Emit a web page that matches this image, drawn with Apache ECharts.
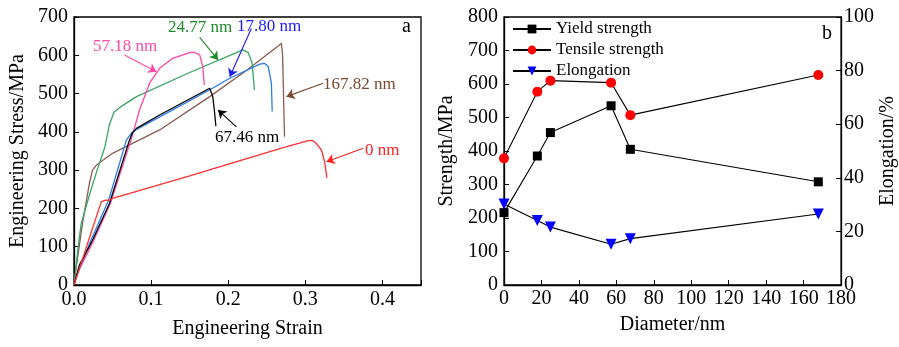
<!DOCTYPE html>
<html>
<head>
<meta charset="utf-8">
<script src="https://cdn.jsdelivr.net/npm/echarts@6/dist/echarts.min.js"></script>
<style>
  html, body { margin: 0; padding: 0; background: #fff; }
  #chart { width: 899px; height: 347px; }
</style>
</head>
<body>
<div id="chart"></div>
<script>
// (a) stress-strain curves, [strain, stress MPa]
const curve0nm = [[0, 0], [0.005, 30], [0.019, 117], [0.0353, 217], [0.04, 221], [0.046, 222], [0.05, 226],
  [0.15, 285], [0.267, 356], [0.3037, 377], [0.31, 377], [0.315, 368], [0.321, 352], [0.325, 322], [0.328, 280]]
const curve17nm = [[0, 0], [0.005, 33], [0.022, 117], [0.045, 222], [0.068, 379], [0.075, 398], [0.08, 405],
  [0.11, 438], [0.178, 512], [0.202, 540], [0.241, 577], [0.247, 579], [0.252, 570], [0.256, 527], [0.257, 453]]
const curve24nm = [[0, 0], [0.004, 75], [0.007, 126], [0.0094, 161], [0.02, 235], [0.03, 300], [0.04, 360],
  [0.046, 420], [0.052, 452], [0.061, 466], [0.081, 492], [0.15, 555], [0.219, 614], [0.226, 607],
  [0.231, 579], [0.234, 509]]
const curve57nm = [[0, 0], [0.003, 25], [0.024, 110], [0.047, 212], [0.074, 379], [0.085, 457], [0.098, 527],
  [0.111, 566], [0.128, 592], [0.15, 607], [0.156, 608], [0.163, 601], [0.167, 570], [0.169, 522]]
const curve67nm = [[0, 0], [0.007, 52], [0.024, 117], [0.046, 213], [0.072, 379], [0.076, 398], [0.081, 409],
  [0.111, 444], [0.176, 514], [0.178, 509], [0.18, 492], [0.182, 457], [0.184, 415]]
const curve167nm = [[0, 0], [0.003, 48], [0.011, 161], [0.02, 266], [0.024, 300], [0.029, 313], [0.037, 325],
  [0.05, 344], [0.059, 353], [0.085, 379], [0.111, 405], [0.176, 492], [0.224, 561], [0.269, 631],
  [0.2705, 600], [0.273, 387]]

// (b) properties vs diameter
const diameters = [0, 17.80, 24.77, 57.18, 67.46, 167.82]
const yieldStrength = [216, 385, 455, 535, 405, 308]
const tensileStrength = [378, 577, 610, 604, 507, 627]
const elongation = [30.2, 24.1, 21.6, 15.2, 17.3, 26.5]

const strainTicks = ['0.0', '0.1', '0.2', '0.3', '0.4']

// arrows: [from, to] in data coords of panel a
const arrows = {
  '0 nm': [[0.375, 357], [0.3275, 322]],
  '17.80 nm': [[0.23, 670], [0.202, 544]],
  '24.77 nm': [[0.163, 647], [0.1868, 588]],
  '57.18 nm': [[0.0656, 601], [0.1068, 557]],
  '67.46 nm': [[0.2106, 413], [0.1868, 457]],
  '167.82 nm': [[0.323, 527], [0.2756, 492]]
}

const font = "'Liberation Serif', 'Times New Roman', serif"
const axisText = { color: '#000', fontFamily: font, fontSize: 20 }
const axisLine = { lineStyle: { color: '#000', width: 1.3 } }

const curve = (name, data, color, textColor) => ({
  name,
  type: 'line',
  xAxisIndex: 0,
  yAxisIndex: 0,
  data,
  showSymbol: false,
  symbol: 'none',
  lineStyle: { color, width: 1.3 },
  markLine: {
    silent: true,
    symbol: ['none', 'arrow'],
    symbolSize: 8,
    label: { show: false },
    lineStyle: { color: textColor, width: 1.1, type: 'solid' },
    data: [[{ coord: arrows[name][0] }, { coord: arrows[name][1] }]]
  }
})

const pair = (ys) => diameters.map((d, i) => [d, ys[i]])

const chart = echarts.init(document.getElementById('chart'))
chart.setOption({
  animation: false,
  textStyle: { fontFamily: font },
  grid: [
    { left: 74, top: 17, width: 347, height: 268, show: true, borderColor: '#000', borderWidth: 1.3 },
    { left: 504, top: 17, width: 342, height: 268, show: true, borderColor: '#000', borderWidth: 1.3 }
  ],
  legend: {
    left: 507,
    top: 15,
    orient: 'vertical',
    itemWidth: 38,
    itemHeight: 11,
    itemGap: 3,
    data: ['Yield strength', 'Tensile strength', 'Elongation'],
    textStyle: { color: '#000', fontFamily: font, fontSize: 17, lineHeight: 18 }
  },
  xAxis: [
    {
      gridIndex: 0, type: 'value', min: 0, max: 0.45, interval: 0.1,
      name: 'Engineering Strain', nameLocation: 'middle', nameGap: 34, nameTextStyle: axisText,
      axisLine, axisTick: { inside: true, length: 5, lineStyle: { color: '#000' } },
      axisLabel: { ...axisText, margin: 5, formatter: v => strainTicks[Math.round(v * 10)] && Math.abs(v * 10 - Math.round(v * 10)) < 1e-6 ? strainTicks[Math.round(v * 10)] : '' },
      splitLine: { show: false }
    },
    {
      gridIndex: 1, type: 'value', min: 0, max: 180, interval: 20,
      name: 'Diameter/nm', nameLocation: 'middle', nameGap: 30, nameTextStyle: axisText,
      axisLine, axisTick: { inside: true, length: 5, lineStyle: { color: '#000' } },
      axisLabel: { ...axisText, margin: 4 },
      splitLine: { show: false }
    }
  ],
  yAxis: [
    {
      gridIndex: 0, type: 'value', min: 0, max: 700, interval: 100,
      name: 'Engineering Stress/MPa', nameLocation: 'middle', nameGap: 46, nameTextStyle: axisText,
      axisLine, axisTick: { inside: true, length: 5, lineStyle: { color: '#000' } },
      axisLabel: { ...axisText, margin: 6 },
      splitLine: { show: false }
    },
    {
      gridIndex: 1, type: 'value', min: 0, max: 800, interval: 100,
      name: 'Strength/MPa', nameLocation: 'middle', nameGap: 47, nameTextStyle: axisText,
      axisLine, axisTick: { inside: true, length: 5, lineStyle: { color: '#000' } },
      axisLabel: { ...axisText, margin: 6 },
      splitLine: { show: false }
    },
    {
      gridIndex: 1, type: 'value', min: 0, max: 100, interval: 20, position: 'right',
      name: 'Elongation/%', nameLocation: 'middle', nameGap: 31, nameRotate: 90, nameTextStyle: axisText,
      axisLine: { show: true, lineStyle: { color: '#000', width: 1.3 } },
      axisTick: { inside: true, length: 5, lineStyle: { color: '#000' } },
      axisLabel: { ...axisText, margin: 3 },
      splitLine: { show: false }
    }
  ],
  series: [
    curve('167.82 nm', curve167nm, '#8c5a50', '#7b4a2e'),
    curve('24.77 nm', curve24nm, '#36a661', '#1d8a2a'),
    curve('57.18 nm', curve57nm, '#ff45a8', '#ff4aa8'),
    curve('17.80 nm', curve17nm, '#2a7de6', '#1a1aff'),
    curve('67.46 nm', curve67nm, '#000000', '#000000'),
    curve('0 nm', curve0nm, '#ff3030', '#ff2020'),
    {
      name: 'Yield strength', type: 'line', xAxisIndex: 1, yAxisIndex: 1,
      data: pair(yieldStrength), symbol: 'rect', symbolSize: 9,
      itemStyle: { color: '#000' }, lineStyle: { color: '#000', width: 1.1 }
    },
    {
      name: 'Tensile strength', type: 'line', xAxisIndex: 1, yAxisIndex: 1,
      data: pair(tensileStrength), symbol: 'circle', symbolSize: 10,
      itemStyle: { color: '#ff0000' }, lineStyle: { color: '#000', width: 1.1 }
    },
    {
      name: 'Elongation', type: 'line', xAxisIndex: 1, yAxisIndex: 2,
      data: pair(elongation), symbol: 'triangle', symbolRotate: 180, symbolSize: 11,
      itemStyle: { color: '#0000ff' }, lineStyle: { color: '#000', width: 1.1 }
    }
  ],
  graphic: [
    { type: 'text', left: 93, top: 38, style: { text: '57.18 nm', fill: '#ff4aa8', font: "17px " + font } },
    { type: 'text', left: 168, top: 19, style: { text: '24.77 nm', fill: '#1d8a2a', font: "17px " + font } },
    { type: 'text', left: 237, top: 18, style: { text: '17.80 nm', fill: '#1a1aff', font: "17px " + font } },
    { type: 'text', left: 323, top: 76, style: { text: '167.82 nm', fill: '#7b4a2e', font: "17px " + font } },
    { type: 'text', left: 215, top: 129, style: { text: '67.46 nm', fill: '#000', font: "17px " + font } },
    { type: 'text', left: 365, top: 142, style: { text: '0 nm', fill: '#ff2020', font: "17px " + font } },
    { type: 'text', left: 402, top: 17, style: { text: 'a', fill: '#000', font: "20px " + font } },
    { type: 'text', left: 822, top: 24, style: { text: 'b', fill: '#000', font: "20px " + font } }
  ]
})
</script>
</body>
</html>
